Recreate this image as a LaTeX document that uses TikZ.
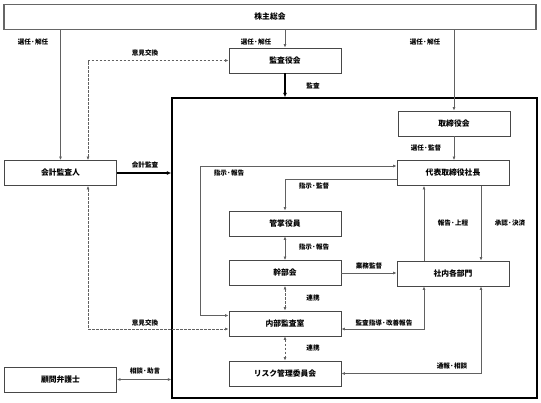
\documentclass[tikz,border=0pt]{standalone}
\usepackage{fontspec}
\setmainfont{Noto Sans CJK JP}
\usetikzlibrary{arrows.meta, positioning, calc}
\colorlet{linegray}{black!62}
\colorlet{boxgray}{black!72}

\begin{document}
\begin{tikzpicture}[
  x=1pt, y=-1pt,
  >={Latex[length=3.5pt,width=3pt]},
  every node/.style={font=\bfseries\fontsize{7.8}{8}\selectfont, align=center},
  unit/.style={draw=boxgray, line width=0.8pt, fill=white, minimum width=112pt, minimum height=25pt, inner sep=0pt},
  lbl/.style={font=\bfseries\fontsize{6.6}{7}\selectfont, inner sep=1pt},
  conn/.style={draw=linegray, line width=0.8pt},
  ex/.style={conn, dash pattern=on 2.5pt off 1.5pt},
  main/.style={draw=black, line width=1.3pt},
  bold/.style={draw=black, line width=1.2pt, -{Latex[length=4.5pt,width=4pt]}}
]

\useasboundingbox (0,0) rectangle (541,402);

% Company frame
\node[main, minimum width=365pt, minimum height=300pt, inner sep=0pt] (ORG) at (354.5,248) {};

% Shareholders
\node[draw=black!60, line width=1.7pt, fill=white, minimum width=532pt, minimum height=25pt, inner sep=0pt] (GM) at (270,17) {株主総会};

% Boxes
\node[unit] (AB) at (285,60.5) {監査役会};
\node[unit] (BD) at (454,123.5) {取締役会};
\node[unit] (CEO) at (453,173) {代表取締役社長};
\node[unit] (AUD) at (60.5,173) {会計監査人};
\node[unit] (EXE) at (285,223.5) {管掌役員};
\node[unit] (MGT) at (285,273) {幹部会};
\node[unit] (DEPT) at (453,273.5) {社内各部門};
\node[unit] (IA) at (285,323.5) {内部監査室};
\node[unit] (RISK) at (285,373.5) {リスク管理委員会};
\node[unit] (LAW) at (60.5,379.5) {顧問弁護士};

% Helper columns
\coordinate (dx) at (88,0);
\coordinate (ox) at (200,0);

% Shareholders -> boards
\draw[conn,->] (GM.south -| AUD.north) -- (AUD.north);
\draw[conn,->] (GM.south -| AB.north) -- (AB.north);
\draw[conn,->] (GM.south -| BD.north) -- (BD.north);

% Exchange of views
\draw[ex,<->] (AUD.north -| dx) |- (AB.west);
\draw[ex,<->] (AUD.south -| dx) |- ($(IA.west)+(0,5.5)$);

% Audits
\draw[bold] (AB.south) -- (AB.south |- ORG.north);
\draw[bold] (AUD.east) -- (AUD.east -| ORG.west);
\draw[conn,<->] (LAW.east) -- (LAW.east -| ORG.west);

% Inside the company
\draw[conn,->] (BD.south) -- (BD.south |- CEO.north);
\draw[conn,<->] ($(CEO.west)+(0,-7)$) -| ($(ox |- IA.west)+(0,-8)$) -- ($(IA.west)+(0,-8)$);
\draw[conn,->] ($(CEO.west)+(0,6)$) -| (EXE.north);
\draw[conn,<->] (EXE.south) -- (MGT.north);
\draw[conn,->] (MGT.east) -- (MGT.east -| DEPT.west);
\draw[conn,->] ($(DEPT.north)+(-29,0)$) -- ($(CEO.south)+(-29,0)$);
\draw[conn,->] ($(CEO.south)+(28,0)$) -- ($(DEPT.north)+(28,0)$);
\draw[ex,<->] (MGT.south) -- (IA.north);
\draw[ex,<->] (IA.south) -- (RISK.north);
\draw[conn,<->] ($(DEPT.south)+(-29,0)$) |- ($(IA.east)+(0,5.5)$);
\draw[conn,<->] ($(DEPT.south)+(28,0)$) |- (RISK.east);

% Labels
\node[lbl] (l1) at (33,42) {選任·解任};
\node[lbl] (l2) at (256,42) {選任·解任};
\node[lbl] (l3) at (425,42) {選任·解任};
\node[lbl] (l4) at (145,53) {意見交換};
\node[lbl] (l5) at (313,86) {監査};
\node[lbl] (l6) at (145,165) {会計監査};
\node[lbl] (l7) at (426,148) {選任·監督};
\node[lbl] (l8) at (229,173) {指示·報告};
\node[lbl] (l9) at (314,186) {指示·監督};
\node[lbl] (l10) at (314,247) {指示·報告};
\node[lbl] (l11) at (369,266) {業務監督};
\node[lbl] (l12) at (453,223) {報告·上程};
\node[lbl] (l13) at (510,223) {承認·決済};
\node[lbl] (l14) at (313,298) {連携};
\node[lbl] (l15) at (384,323) {監査指導·改善報告};
\node[lbl] (l16) at (313,348) {連携};
\node[lbl] (l17) at (145,323) {意見交換};
\node[lbl] (l18) at (452,366) {通報·相談};
\node[lbl] (l19) at (145,371) {相談·助言};

\end{tikzpicture}
\end{document}
